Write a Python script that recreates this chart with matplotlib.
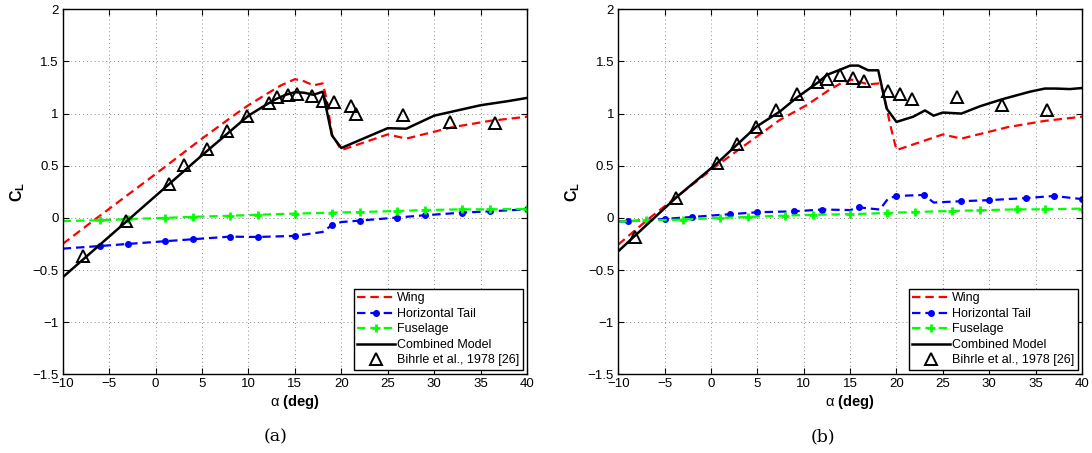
import matplotlib
matplotlib.use("Agg")
import matplotlib.pyplot as plt

plt.rcParams['font.family'] = ['Liberation Sans', 'DejaVu Sans']
plt.rcParams['mathtext.fontset'] = 'custom'
plt.rcParams['mathtext.rm'] = 'Liberation Sans'
plt.rcParams['mathtext.bf'] = 'Liberation Sans:bold'
plt.rcParams['mathtext.it'] = 'Liberation Sans:italic'

# ---------------- Panel (a) ----------------
wing_a_x = [-10, -6.3, 0, 5, 8.7, 10, 12, 13.5, 15, 16, 17, 18, 18.4, 19, 20, 25, 27, 32, 36, 40]
wing_a_y = [-0.25, 0.0, 0.42, 0.76, 1.0, 1.08, 1.19, 1.27, 1.33, 1.31, 1.27, 1.29, 1.15, 0.80, 0.65, 0.80, 0.76, 0.87, 0.93, 0.97]

tail_a_x = [-10, -6, -3, 1, 4, 8, 11, 15, 18, 19, 20, 22, 26, 29, 33, 36, 40]
tail_a_y = [-0.295, -0.27, -0.25, -0.224, -0.205, -0.18, -0.183, -0.173, -0.135, -0.068, -0.04, -0.026, 0.003, 0.025, 0.05, 0.063, 0.082]
tail_a_marks = [1, 2, 3, 4, 5, 6, 7, 9, 11, 12, 13, 14, 15, 16]

fus_a_x = [-10, -6, -3, 1, 4, 8, 11, 15, 19, 22, 26, 29, 33, 36, 40]
fus_a_y = [-0.03, -0.023, -0.012, 0.0, 0.01, 0.02, 0.03, 0.041, 0.05, 0.056, 0.066, 0.075, 0.082, 0.082, 0.085]
fus_a_marks = list(range(1, 15))

comb_a_x = [-10, 0, 5, 10, 12, 13, 14, 15, 16, 17, 18, 19, 20, 25, 27, 30, 32, 35, 38, 40]
comb_a_y = [-0.57, 0.21, 0.60, 0.98, 1.09, 1.14, 1.18, 1.205, 1.20, 1.18, 1.21, 0.79, 0.67, 0.86, 0.855, 0.98, 1.02, 1.08, 1.12, 1.15]

exp_a_x = [-7.85, -3.22, 1.4, 3.1, 5.5, 7.65, 9.8, 12.2, 13.1, 14.3, 15.25, 16.8, 18.05, 19.2, 21.0, 21.6, 26.7, 31.7, 36.6]
exp_a_y = [-0.37, -0.033, 0.32, 0.51, 0.66, 0.83, 0.98, 1.10, 1.16, 1.18, 1.19, 1.17, 1.12, 1.11, 1.07, 1.00, 0.99, 0.92, 0.91]

# ---------------- Panel (b) ----------------
wing_b_x = [-10, -6.6, 0.6, 7.43, 10.3, 12.8, 14, 15.16, 16.95, 18.2, 18.6, 19.3, 20, 25, 27, 32, 36, 40]
wing_b_y = [-0.256, 0.0, 0.50, 0.94, 1.08, 1.23, 1.29, 1.326, 1.28, 1.29, 1.20, 0.90, 0.65, 0.80, 0.76, 0.87, 0.93, 0.97]

tail_b_x = [-10, -9, -5, -2, 2, 5, 9, 12, 15, 16, 18.2, 19.1, 20, 23, 24, 27, 30, 34, 37, 40]
tail_b_y = [-0.035, -0.033, -0.01, 0.009, 0.035, 0.054, 0.063, 0.08, 0.075, 0.10, 0.08, 0.185, 0.21, 0.22, 0.147, 0.16, 0.17, 0.19, 0.21, 0.18]
tail_b_marks = [1, 2, 3, 4, 5, 6, 7, 9, 12, 13, 15, 16, 17, 18, 19]

fus_b_x = [-10, -7, -3, 1, 4, 8, 11, 15, 19, 22, 26, 29, 33, 36, 40]
fus_b_y = [-0.035, -0.025, -0.016, 0.0, 0.009, 0.022, 0.03, 0.035, 0.047, 0.057, 0.066, 0.073, 0.082, 0.082, 0.089]
fus_b_marks = list(range(1, 15))

comb_b_x = [-10, -3.7, 0.6, 4.9, 7.43, 9.2, 11.56, 12.47, 13.9, 15, 15.9, 16.95, 18.03, 18.94, 20, 21.8, 23.07, 24, 25, 27, 29, 31.5, 34.4, 36, 37.2, 38.7, 40]
comb_b_y = [-0.32, 0.20, 0.52, 0.875, 1.02, 1.15, 1.30, 1.37, 1.42, 1.46, 1.46, 1.415, 1.415, 1.048, 0.92, 0.97, 1.03, 0.98, 1.01, 1.00, 1.07, 1.14, 1.21, 1.24, 1.24, 1.235, 1.245]

exp_b_x = [-8.2, -3.8, 0.67, 2.8, 4.9, 7.06, 9.3, 11.46, 12.47, 13.9, 15.27, 16.52, 19.1, 20.37, 21.63, 26.5, 31.4, 36.2]
exp_b_y = [-0.18, 0.19, 0.53, 0.71, 0.875, 1.035, 1.19, 1.30, 1.335, 1.367, 1.345, 1.313, 1.217, 1.185, 1.14, 1.16, 1.08, 1.035]

x_ticks = [-10, -5, 0, 5, 10, 15, 20, 25, 30, 35, 40]
y_ticks = [-1.5, -1, -0.5, 0, 0.5, 1, 1.5, 2]
y_ticklabels = ['\u22121.5', '\u22121', '\u22120.5', '0', '0.5', '1', '1.5', '2']
x_ticklabels = ['\u221210', '\u22125', '0', '5', '10', '15', '20', '25', '30', '35', '40']
legend_labels = ['Wing', 'Horizontal Tail', 'Fuselage', 'Combined Model', 'Bihrle et al., 1978 [26]']
captions = ['(a)', '(b)']

fig = plt.figure(figsize=(10.92, 4.53), dpi=100)
ax_a = fig.add_axes([0.0574, 0.1737, 0.4252, 0.8058])
ax_b = fig.add_axes([0.5662, 0.1737, 0.4246, 0.8058])

panels = [
    (ax_a, wing_a_x, wing_a_y, tail_a_x, tail_a_y, tail_a_marks, fus_a_x, fus_a_y, fus_a_marks,
     comb_a_x, comb_a_y, exp_a_x, exp_a_y),
    (ax_b, wing_b_x, wing_b_y, tail_b_x, tail_b_y, tail_b_marks, fus_b_x, fus_b_y, fus_b_marks,
     comb_b_x, comb_b_y, exp_b_x, exp_b_y),
]

dash = (3.8, 2.2)
for i, (ax, wx, wy, tx, ty, tm, fx, fy, fm, cx, cy, ex, ey) in enumerate(panels):
    ax.plot(wx, wy, color='#ff0000', lw=1.6, linestyle=(0, dash), label=legend_labels[0])
    ax.plot(tx, ty, color='#0000ff', lw=1.6, linestyle=(0, dash), marker='o', markersize=4.0,
            markevery=tm, label=legend_labels[1])
    ax.plot(fx, fy, color='#00ff00', lw=1.6, linestyle=(0, dash), marker='+', markersize=5.5,
            markeredgewidth=2.0, markevery=fm, label=legend_labels[2])
    ax.plot(cx, cy, color='black', lw=1.8, label=legend_labels[3])
    ax.plot(ex, ey, linestyle='none', marker='^', markersize=8, markerfacecolor='none',
            markeredgecolor='black', markeredgewidth=1.4, label=legend_labels[4])

    ax.set_xlim(-10, 40)
    ax.set_ylim(-1.5, 2)
    ax.set_xticks(x_ticks)
    ax.set_xticklabels(x_ticklabels)
    ax.set_yticks(y_ticks)
    ax.set_yticklabels(y_ticklabels)
    ax.tick_params(direction='in', top=True, right=True, length=4, width=0.8, labelsize=9.5,
                   pad=3)
    ax.grid(True, color='0.55', linestyle=(0, (1, 3)), linewidth=0.7)
    for s in ax.spines.values():
        s.set_linewidth(1.0)
    ax.set_xlabel(r'$\mathrm{\alpha}$ $\mathbf{(deg)}$', fontsize=10.5, labelpad=2)
    ax.set_ylabel(r'$\mathbf{C_L}$', fontsize=11.5, labelpad=4)

    leg = ax.legend(loc='lower right', fontsize=9, frameon=True, fancybox=False,
                    edgecolor='black', framealpha=1, borderaxespad=0.33,
                    handlelength=3.0, handletextpad=0.15, labelspacing=0.28,
                    borderpad=0.3)
    leg.get_frame().set_linewidth(1.0)

fig.text(0.252, 0.035, captions[0], ha='center', va='center', fontsize=12.5, family='DejaVu Serif')
fig.text(0.754, 0.035, captions[1], ha='center', va='center', fontsize=12.5, family='DejaVu Serif')

fig.savefig('out.png', dpi=100)
